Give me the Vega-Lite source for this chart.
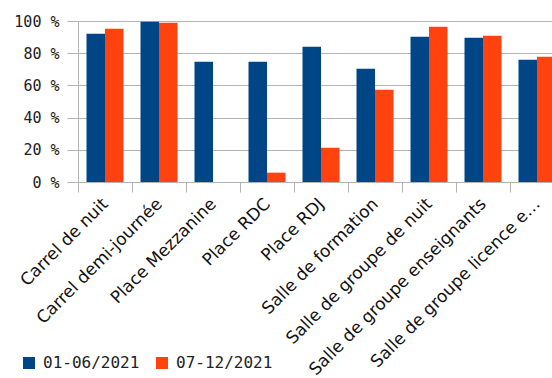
{
  "$schema": "https://vega.github.io/schema/vega-lite/v6.json",
  "autosize": "none",
  "padding": {"left": 78, "top": 21, "right": 0, "bottom": 196},
  "width": 486,
  "height": 161,
  "background": "white",
  "data": {"values": [
    {"cat": "Carrel de nuit", "series": "01-06/2021", "v": 92.1},
    {"cat": "Carrel de nuit", "series": "07-12/2021", "v": 95.2},
    {"cat": "Carrel demi-journée", "series": "01-06/2021", "v": 99.6},
    {"cat": "Carrel demi-journée", "series": "07-12/2021", "v": 98.9},
    {"cat": "Place Mezzanine", "series": "01-06/2021", "v": 74.7},
    {"cat": "Place Mezzanine", "series": "07-12/2021", "v": 0},
    {"cat": "Place RDC", "series": "01-06/2021", "v": 74.7},
    {"cat": "Place RDC", "series": "07-12/2021", "v": 5.8},
    {"cat": "Place RDJ", "series": "01-06/2021", "v": 84.0},
    {"cat": "Place RDJ", "series": "07-12/2021", "v": 21.3},
    {"cat": "Salle de formation", "series": "01-06/2021", "v": 70.4},
    {"cat": "Salle de formation", "series": "07-12/2021", "v": 57.3},
    {"cat": "Salle de groupe de nuit", "series": "01-06/2021", "v": 90.2},
    {"cat": "Salle de groupe de nuit", "series": "07-12/2021", "v": 96.4},
    {"cat": "Salle de groupe enseignants", "series": "01-06/2021", "v": 89.6},
    {"cat": "Salle de groupe enseignants", "series": "07-12/2021", "v": 90.9},
    {"cat": "Salle de groupe licence e…", "series": "01-06/2021", "v": 76.0},
    {"cat": "Salle de groupe licence e…", "series": "07-12/2021", "v": 77.8}
  ]},
  "mark": {"type": "bar"},
  "encoding": {
    "x": {
      "field": "cat", "type": "nominal", "sort": null, "title": null,
      "scale": {"paddingInner": 0, "paddingOuter": 0},
      "axis": {
        "tickBand": "extent", "tickSize": 10, "tickColor": "#b3b3b3", "domainColor": "#b3b3b3",
        "labelAngle": -45, "labelAlign": "right", "labelBaseline": "middle",
        "labelFont": "DejaVu Sans", "labelFontSize": 17, "labelColor": "#111111",
        "labelPadding": 9, "labelLimit": 400, "grid": false
      }
    },
    "xOffset": {"field": "series", "type": "nominal", "scale": {"paddingInner": 0, "paddingOuter": 0.46}},
    "y": {
      "field": "v", "type": "quantitative", "title": null,
      "scale": {"domain": [0, 100], "nice": false},
      "axis": {
        "values": [0, 20, 40, 60, 80, 100],
        "labelExpr": "datum.value + ' %'",
        "labelFont": "DejaVu Sans Mono", "labelFontSize": 15, "labelColor": "#222222",
        "tickSize": 11, "tickColor": "#b3b3b3", "domainColor": "#b3b3b3",
        "gridColor": "#b3b3b3", "labelPadding": 8
      }
    },
    "color": {
      "field": "series", "type": "nominal", "title": null,
      "scale": {"domain": ["01-06/2021", "07-12/2021"], "range": ["#004586", "#ff420e"]},
      "legend": {
        "orient": "none", "direction": "horizontal", "legendX": -57, "legendY": 334,
        "symbolType": "square", "symbolSize": 144, "symbolStrokeWidth": 0,
        "labelFont": "DejaVu Sans Mono", "labelFontSize": 16, "labelColor": "#222222",
        "labelOffset": 6, "columnPadding": 14
      }
    }
  },
  "config": {"view": {"stroke": null}}
}
